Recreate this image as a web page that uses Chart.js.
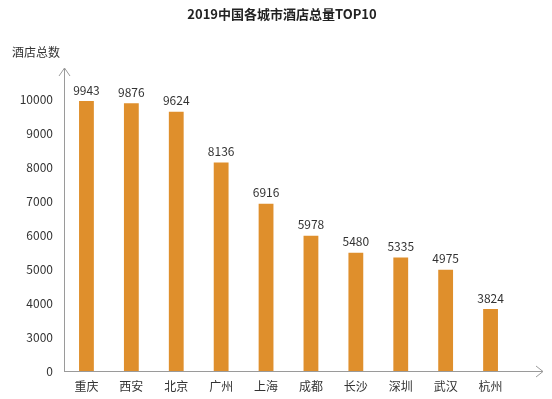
<!DOCTYPE html>
<html>
<head>
<meta charset="utf-8">
<script src="https://cdn.jsdelivr.net/npm/chart.js@4"></script>
<style>
  html, body { margin: 0; padding: 0; background: #fff; }
  #wrap { width: 552px; height: 399px; }
</style>
</head>
<body>
<div id="wrap"><canvas id="hotelChart"></canvas></div>
<script>
// data
const cities = ["重庆", "西安", "北京", "广州", "上海", "成都", "长沙", "深圳", "武汉", "杭州"];
const hotelCounts = [9943, 9876, 9624, 8136, 6916, 5978, 5480, 5335, 4975, 3824];
const yTicks = [0, 3000, 4000, 5000, 6000, 7000, 8000, 9000, 10000];
// the axis is broken: "0" sits where 2000 would be
const axisFloor = 2000;

const FONT = '"Noto Sans CJK SC", "Noto Sans", sans-serif';
const TEXT = "#333";
const AXIS = "#9a9a9a";

// title, y title, and axis lines with open arrow heads
const axesPlugin = {
    id: "axesArrows",
    afterDraw(chart) {
        const { ctx, chartArea } = chart;
        const { left, right, top, bottom } = chartArea;
        const yTip = top - 31;
        const xTip = right + 30;
        ctx.save();
        ctx.strokeStyle = AXIS;
        ctx.lineWidth = 1;
        ctx.beginPath();
        ctx.moveTo(left + 0.5, bottom + 0.5);
        ctx.lineTo(left + 0.5, yTip);
        ctx.moveTo(left - 5, yTip + 8);
        ctx.lineTo(left + 0.5, yTip);
        ctx.lineTo(left + 6, yTip + 8);
        ctx.moveTo(left, bottom + 0.5);
        ctx.lineTo(xTip, bottom + 0.5);
        ctx.moveTo(xTip - 7, bottom - 5);
        ctx.lineTo(xTip, bottom + 0.5);
        ctx.lineTo(xTip - 7, bottom + 6);
        ctx.stroke();

        ctx.fillStyle = "#222";
        ctx.font = "bold 13px " + FONT;
        ctx.textAlign = "center";
        ctx.textBaseline = "middle";
        ctx.fillText("2019中国各城市酒店总量TOP10", 282, 14);

        ctx.fillStyle = TEXT;
        ctx.font = "12px " + FONT;
        ctx.textAlign = "left";
        ctx.fillText("酒店总数", 12, 52);
        ctx.restore();
    }
};

// value labels above bars
const valueLabels = {
    id: "valueLabels",
    afterDatasetsDraw(chart) {
        const { ctx } = chart;
        const meta = chart.getDatasetMeta(0);
        ctx.save();
        ctx.fillStyle = TEXT;
        ctx.font = "12px " + FONT;
        ctx.textAlign = "center";
        ctx.textBaseline = "bottom";
        meta.data.forEach((bar, i) => {
            ctx.fillText(String(hotelCounts[i]), bar.x, bar.y - 5);
        });
        ctx.restore();
    }
};

const ctx = document.getElementById("hotelChart").getContext("2d");
new Chart(ctx, {
    type: "bar",
    data: {
        labels: cities,
        datasets: [{
            label: "酒店总数",
            data: hotelCounts,
            backgroundColor: "#df8f2c",
            borderWidth: 0,
            categoryPercentage: 1,
            barPercentage: 0.33,
            base: axisFloor
        }]
    },
    options: {
        responsive: true,
        maintainAspectRatio: false,
        animation: false,
        layout: { padding: { top: 99, right: 39, bottom: 0, left: 0 } },
        plugins: {
            legend: { display: false },
            tooltip: { enabled: false },
            title: { display: false }
        },
        scales: {
            x: {
                grid: { display: false, drawTicks: false },
                border: { display: false },
                ticks: { color: TEXT, font: { family: FONT, size: 12 }, padding: 8 },
                afterFit(scale) { scale.height = 28; }
            },
            y: {
                min: axisFloor,
                max: 10000,
                grid: { display: false, drawTicks: false },
                border: { display: false },
                afterBuildTicks(scale) {
                    scale.ticks = yTicks.map(v => ({ value: v === 0 ? axisFloor : v }));
                },
                ticks: {
                    color: TEXT,
                    font: { family: FONT, size: 12 },
                    padding: 11,
                    callback: (v) => (v === axisFloor ? "0" : String(v))
                },
                afterFit(scale) { scale.width = 64; }
            }
        }
    },
    plugins: [axesPlugin, valueLabels]
});
</script>
</body>
</html>
